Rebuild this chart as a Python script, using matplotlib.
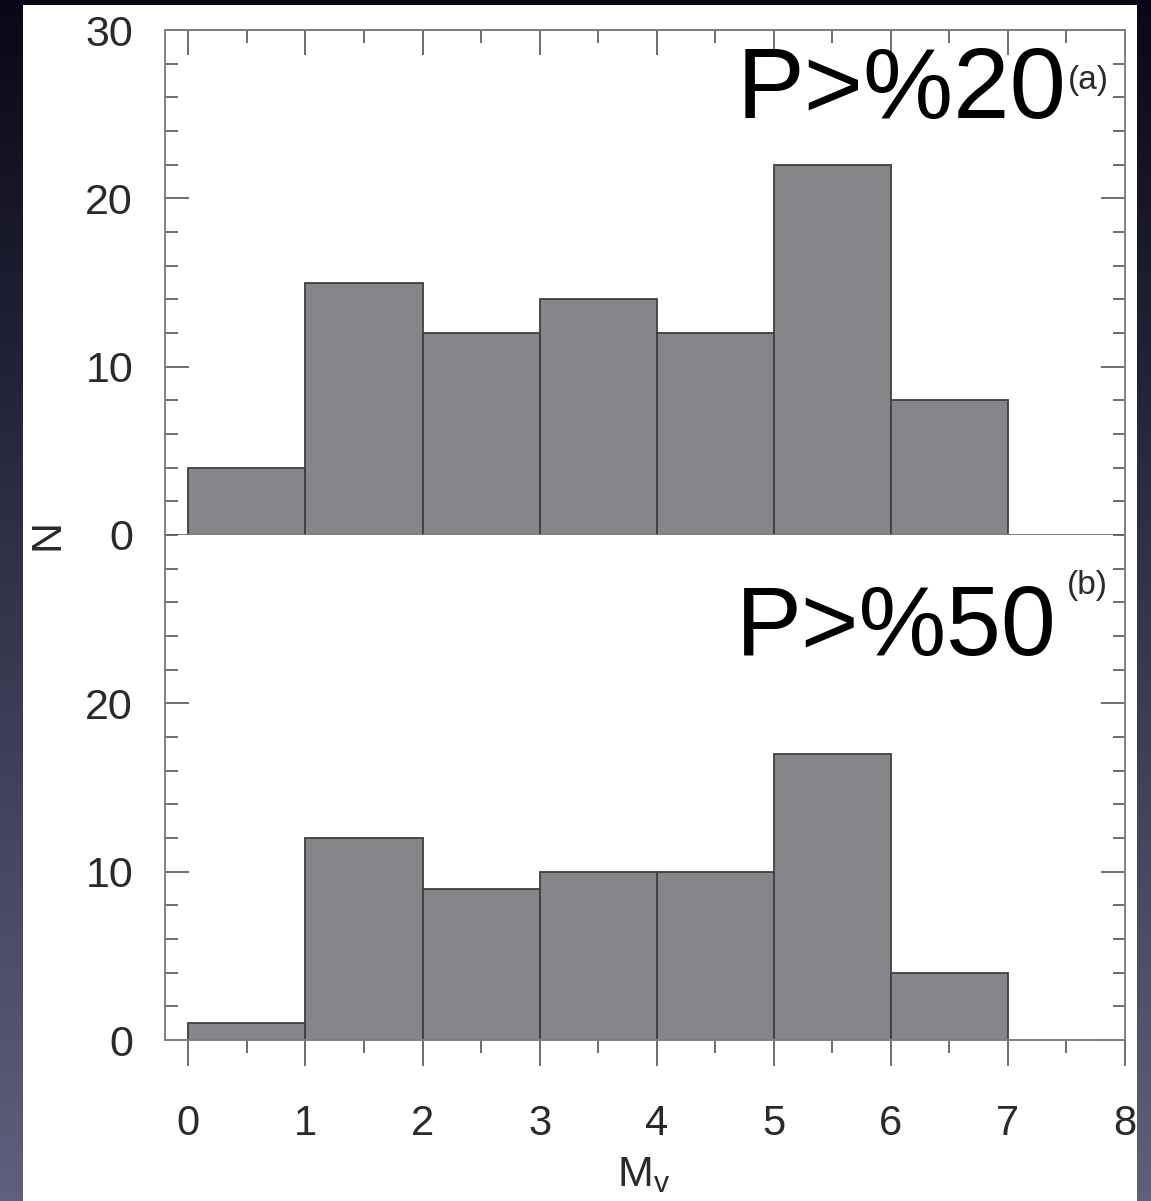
import numpy as np
import matplotlib
matplotlib.use('Agg')
import matplotlib.pyplot as plt
from matplotlib.ticker import MultipleLocator
from matplotlib.patches import Rectangle

plt.rcParams['font.family'] = ['Liberation Sans', 'DejaVu Sans']
plt.rcParams['mathtext.fontset'] = 'custom'
plt.rcParams['mathtext.rm'] = 'Liberation Sans'

# --- data: M_V histograms, unit bins 0..7 ---
bin_edges = [0, 1, 2, 3, 4, 5, 6, 7]
counts_p20 = [4, 15, 12, 14, 12, 22, 8]
counts_p50 = [1, 12, 9, 10, 10, 17, 4]
label_p20 = 'P>%20'
label_p50 = 'P>%50'
tag_p20 = '(a)'
tag_p50 = '(b)'

W, H = 1151, 1201
fig = plt.figure(figsize=(W / 100, H / 100), dpi=100)

# dark slide background with white panel
bg = fig.add_axes([0, 0, 1, 1], zorder=-10)
grad = np.linspace(0, 1, 256)[:, None]
top_c = np.array([0x08, 0x08, 0x18]) / 255
bot_c = np.array([0x60, 0x60, 0x7e]) / 255
img = top_c[None, None, :] * (1 - grad[..., None]) + bot_c[None, None, :] * grad[..., None]
bg.imshow(img, aspect='auto', extent=[0, 1, 0, 1], origin='upper')
bg.add_patch(Rectangle((23 / W, 0), (1137 - 23) / W, (H - 5) / H,
                       facecolor='white', edgecolor='none'))
bg.set_xlim(0, 1)
bg.set_ylim(0, 1)
bg.axis('off')

left = 165 / W
width = (1125 - 165) / W
height = 505 / H
ax1 = fig.add_axes([left, 1 - 535 / H, width, height])
ax2 = fig.add_axes([left, 1 - 1040 / H, width, height])

bar_face = '#878589'
bar_edge = '#404040'
spine_c = '#808080'
tick_c = '#555555'
lab_c = '#2a2a2a'

for ax, counts in ((ax1, counts_p20), (ax2, counts_p50)):
    ax.bar(bin_edges[:-1], counts, width=1, align='edge',
           facecolor=bar_face, edgecolor=bar_edge, linewidth=1.3)
    ax.set_xlim(-0.2, 8)
    ax.set_ylim(0, 30)
    ax.xaxis.set_major_locator(MultipleLocator(1))
    ax.xaxis.set_minor_locator(MultipleLocator(0.5))
    ax.yaxis.set_minor_locator(MultipleLocator(2))
    for s in ax.spines.values():
        s.set_color(spine_c)
        s.set_linewidth(1.4)
    ax.tick_params(axis='y', which='both', direction='in', left=True, right=True,
                   colors=tick_c, labelcolor=lab_c, labelsize=31, pad=23, width=1.2)
    ax.tick_params(axis='y', which='major', length=17)
    ax.tick_params(axis='y', which='minor', length=9)
    ax.tick_params(axis='x', which='both', direction='out', bottom=True, top=False,
                   colors=tick_c, labelcolor=lab_c, labelsize=30, pad=27, width=1.2)
    ax.tick_params(axis='x', which='major', length=19)
    ax.tick_params(axis='x', which='minor', length=9.5)

ax1.set_yticks([0, 10, 20, 30])
ax1.tick_params(axis='x', labelbottom=False)
top_ax = ax1.secondary_xaxis('top')
top_ax.xaxis.set_major_locator(MultipleLocator(1))
top_ax.xaxis.set_minor_locator(MultipleLocator(0.5))
top_ax.tick_params(axis='x', which='both', direction='in', labeltop=False,
                   colors=tick_c, width=1.2)
top_ax.tick_params(axis='x', which='major', length=18)
top_ax.tick_params(axis='x', which='minor', length=9.5)
top_ax.spines['top'].set_color(spine_c)
top_ax.spines['top'].set_linewidth(1.4)

ax2.set_yticks([0, 10, 20])
ax2.spines['top'].set_visible(False)

# panel labels
ax1.text(4.68, 24.78, label_p20, fontsize=73, color='black', ha='left', va='baseline')
ax1.text(7.51, 26.5, tag_p20, fontsize=24, color=lab_c, ha='left', va='baseline')
ax2.text(4.68, 22.9, label_p50, fontsize=71, color='black', ha='left', va='baseline')
ax2.text(7.50, 26.5, tag_p50, fontsize=24, color=lab_c, ha='left', va='baseline')

fig.text(47.5 / W, 1 - 534 / H, 'N', rotation=90, fontsize=31, color=lab_c,
         ha='center', va='center')
fig.text(644 / W, 1 - 1186 / H, r'$\mathregular{M_v}$', fontsize=31, color=lab_c,
         ha='center', va='baseline')

fig.savefig('out.png', dpi=100)
